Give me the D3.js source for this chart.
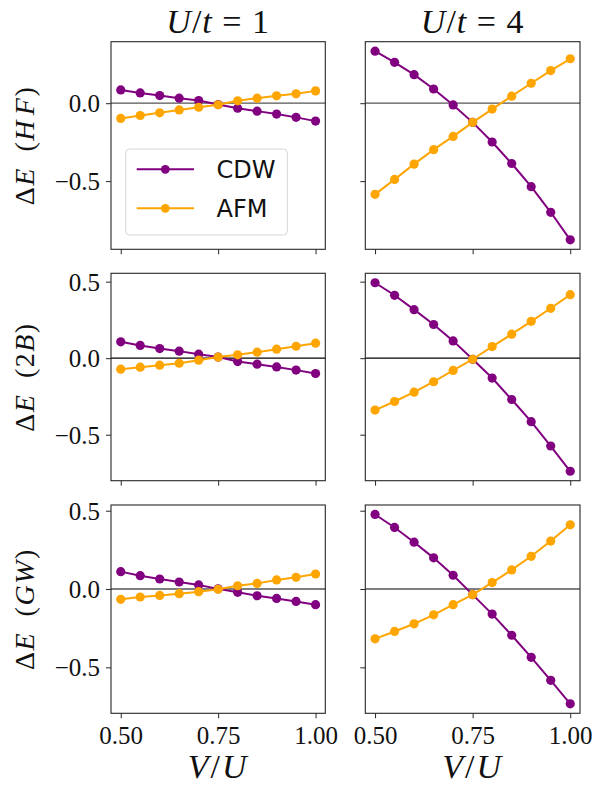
<!DOCTYPE html>
<html>
<head>
<meta charset="utf-8">
<script src="https://cdn.jsdelivr.net/npm/d3@7"></script>
<style>
  html, body { margin: 0; padding: 0; background: #fff; }
  svg { display: block; }
</style>
</head>
<body>
<svg id="chart" width="596" height="787"></svg>
<script>
// V/U grid shared by every panel
const vOverU = [0.50, 0.55, 0.60, 0.65, 0.70, 0.75, 0.80, 0.85, 0.90, 0.95, 1.00];

// Energy differences, one array per method / interaction strength / phase
const hfU1Cdw = [0.085, 0.066, 0.049, 0.032, 0.017, -0.009, -0.032, -0.051, -0.070, -0.091, -0.115];
const hfU1Afm = [-0.098, -0.079, -0.062, -0.043, -0.026, -0.010, 0.015, 0.032, 0.047, 0.060, 0.079];
const hfU4Cdw = [0.334, 0.262, 0.183, 0.091, -0.011, -0.123, -0.249, -0.387, -0.536, -0.700, -0.877];
const hfU4Afm = [-0.585, -0.489, -0.391, -0.298, -0.213, -0.123, -0.038, 0.045, 0.128, 0.209, 0.285];

const bU1Cdw = [0.107, 0.083, 0.063, 0.046, 0.026, 0.007, -0.022, -0.039, -0.057, -0.078, -0.100];
const bU1Afm = [-0.072, -0.059, -0.046, -0.033, -0.013, 0.007, 0.022, 0.039, 0.059, 0.078, 0.098];
const bU4Cdw = [0.493, 0.411, 0.317, 0.220, 0.113, -0.007, -0.130, -0.270, -0.415, -0.574, -0.739];
const bU4Afm = [-0.339, -0.283, -0.222, -0.154, -0.080, -0.007, 0.076, 0.157, 0.241, 0.326, 0.415];

const gwU1Cdw = [0.111, 0.085, 0.064, 0.045, 0.026, 0.001, -0.021, -0.043, -0.060, -0.079, -0.100];
const gwU1Afm = [-0.066, -0.051, -0.041, -0.030, -0.017, -0.002, 0.021, 0.036, 0.058, 0.075, 0.096];
const gwU4Cdw = [0.476, 0.393, 0.299, 0.199, 0.088, -0.036, -0.160, -0.295, -0.436, -0.583, -0.733];
const gwU4Afm = [-0.318, -0.271, -0.222, -0.165, -0.100, -0.036, 0.041, 0.122, 0.209, 0.306, 0.410];

const xTicks = [0.50, 0.75, 1.00];
const xTickLabels = ["0.50", "0.75", "1.00"];
const yTicks = [0.5, 0.0, -0.5];
const yTickLabels = ["0.5", "0.0", "\u22120.5"];

const seriesNames = ["CDW", "AFM"];
const seriesColors = ["#800080", "#FFA500"];

// Row / column structure
const colTitles = [["U", "i"], ["/", "r"], ["t", "i"], ["\u2005=\u2005", "r"]];
const colValues = ["1", "4"];
const rowLabels = [
  [["H", "i"], ["\u200aF", "i"]],
  [["2", "r"], ["B", "i"]],
  [["G", "i"], ["W", "i"]]
];
const rowData = [
  [[hfU1Cdw, hfU1Afm], [hfU4Cdw, hfU4Afm]],
  [[bU1Cdw, bU1Afm], [bU4Cdw, bU4Afm]],
  [[gwU1Cdw, gwU1Afm], [gwU4Cdw, gwU4Afm]]
];
const zeroLineColors = ["#555555", "#000000", "#555555"];

// Layout
const colX = [[111, 325.3], [365.3, 580]];
const rowY = [[41.7, 249.3], [273.3, 480.7], [505, 713.3]];
const serif = "'Liberation Serif', 'Times New Roman', serif";
const sans = "'DejaVu Sans', sans-serif";
const axisColor = "#262626";

const svg = d3.select("#chart");

function mathText(sel, parts) {
  parts.forEach(([t, style]) => {
    sel.append("tspan")
      .attr("font-style", style === "i" ? "italic" : "normal")
      .text(t);
  });
}

const x = d3.scaleLinear().domain([0.475, 1.025]);

rowData.forEach((cols, r) => {
  const all = cols.flat(2);
  const lo = d3.min(all), hi = d3.max(all);
  const pad = (hi - lo) * 0.05;
  const y = d3.scaleLinear().domain([lo - pad, hi + pad]).range([rowY[r][1], rowY[r][0]]);
  const yt = yTicks.map((v, i) => ({ v, l: yTickLabels[i] })).filter(d => d.v >= y.domain()[0] && d.v <= y.domain()[1]);

  cols.forEach((series, c) => {
    const xs = x.copy().range(colX[c]);
    const g = svg.append("g");

    // zero reference line
    g.append("line")
      .attr("x1", colX[c][0]).attr("x2", colX[c][1])
      .attr("y1", y(0)).attr("y2", y(0))
      .attr("stroke", zeroLineColors[r]).attr("stroke-width", 1.3);

    // series lines and markers
    series.forEach((vals, s) => {
      const pts = vOverU.map((v, i) => [v, vals[i]]);
      g.append("path")
        .attr("d", d3.line().x(d => xs(d[0])).y(d => y(d[1]))(pts))
        .attr("fill", "none")
        .attr("stroke", seriesColors[s])
        .attr("stroke-width", 2);
      g.selectAll(null).data(pts).enter().append("circle")
        .attr("cx", d => xs(d[0])).attr("cy", d => y(d[1]))
        .attr("r", 4.6)
        .attr("fill", seriesColors[s]);
    });

    // x axis
    const xAxis = d3.axisBottom(xs).tickValues(xTicks).tickSize(5).tickSizeOuter(0)
      .tickFormat((d, i) => r === 2 ? xTickLabels[i] : "");
    const gx = svg.append("g").attr("transform", `translate(0,${rowY[r][1]})`).call(xAxis);
    gx.select(".domain").remove();
    gx.selectAll(".tick line").attr("stroke", axisColor).attr("stroke-width", 1);
    gx.selectAll(".tick text")
      .attr("font-family", serif).attr("font-size", 25).attr("fill", "#111")
      .attr("y", 31).attr("dy", 0);

    // y axis
    const yAxis = d3.axisLeft(y).tickValues(yt.map(d => d.v)).tickSize(5).tickSizeOuter(0)
      .tickFormat((d, i) => c === 0 ? yt[i].l : "");
    const gy = svg.append("g").attr("transform", `translate(${colX[c][0]},0)`).call(yAxis);
    gy.select(".domain").remove();
    gy.selectAll(".tick line").attr("stroke", axisColor).attr("stroke-width", 1);
    gy.selectAll(".tick text")
      .attr("font-family", serif).attr("font-size", 25).attr("fill", "#111")
      .attr("x", -11).attr("dy", "0.34em");

    // frame
    svg.append("rect")
      .attr("x", colX[c][0]).attr("y", rowY[r][0])
      .attr("width", colX[c][1] - colX[c][0]).attr("height", rowY[r][1] - rowY[r][0])
      .attr("fill", "none").attr("stroke", axisColor).attr("stroke-width", 1.1);
  });

  // row label
  const cy = (rowY[r][0] + rowY[r][1]) / 2;
  const lab = svg.append("text")
    .attr("transform", `translate(33.5,${cy}) rotate(-90)`)
    .attr("text-anchor", "middle")
    .attr("letter-spacing", 1.5)
    .attr("font-family", serif).attr("font-size", 28).attr("fill", "#111");
  mathText(lab, [["\u0394", "r"], ["E", "i"], ["\u2002(", "r"]].concat(rowLabels[r]).concat([[")", "r"]]));
});

// column titles
colValues.forEach((v, c) => {
  const t = svg.append("text")
    .attr("x", (colX[c][0] + colX[c][1]) / 2).attr("y", 33.3)
    .attr("text-anchor", "middle")
    .attr("letter-spacing", 1)
    .attr("font-family", serif).attr("font-size", 34).attr("fill", "#111");
  mathText(t, colTitles.concat([[v, "r"]]));
});

// x axis labels
[0, 1].forEach(c => {
  const t = svg.append("text")
    .attr("x", (colX[c][0] + colX[c][1]) / 2).attr("y", 778)
    .attr("text-anchor", "middle")
    .attr("letter-spacing", 2)
    .attr("font-family", serif).attr("font-size", 34).attr("fill", "#111");
  mathText(t, [["V", "i"], ["/", "r"], ["U", "i"]]);
});

// legend in the top-left panel
const leg = svg.append("g");
leg.append("rect")
  .attr("x", 125.7).attr("y", 149).attr("width", 161.6).attr("height", 86)
  .attr("rx", 4).attr("fill", "rgba(255,255,255,0.8)")
  .attr("stroke", "#d6d6d6").attr("stroke-width", 1);
seriesNames.forEach((name, s) => {
  const ly = 169.3 + s * 39;
  leg.append("line").attr("x1", 136.7).attr("x2", 194).attr("y1", ly).attr("y2", ly)
    .attr("stroke", seriesColors[s]).attr("stroke-width", 2);
  leg.append("circle").attr("cx", 165.3).attr("cy", ly).attr("r", 4.4).attr("fill", seriesColors[s]);
  leg.append("text").attr("x", 216.5).attr("y", ly).attr("dy", "0.36em")
    .attr("font-family", sans).attr("font-size", 24).attr("fill", "#111")
    .text(name);
});
</script>
</body>
</html>
